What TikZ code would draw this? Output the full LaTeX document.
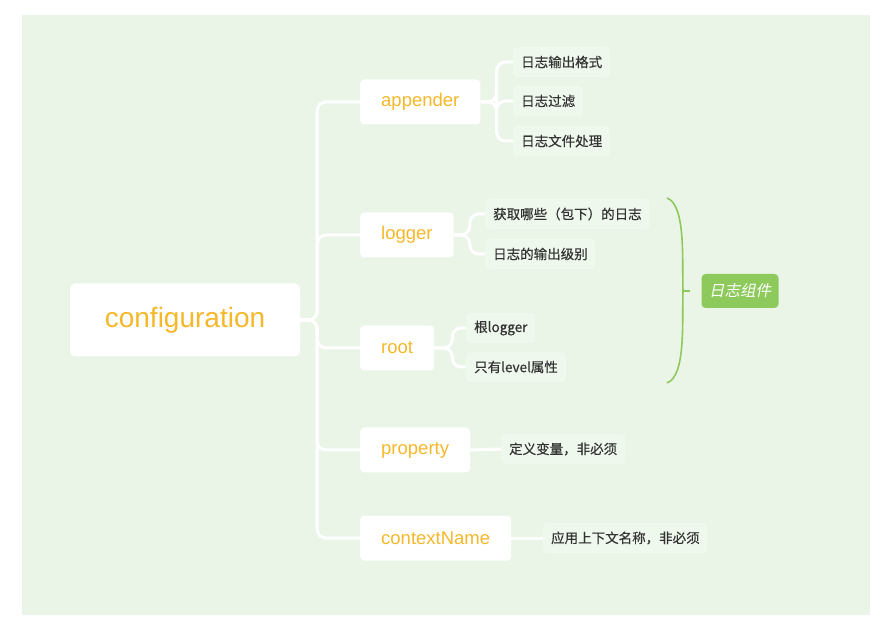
\documentclass[tikz,border=0pt]{standalone}
\usepackage{fontspec}
\setmainfont{Liberation Sans}
\newfontfamily\cjk[FakeBold=0.4]{Noto Sans CJK SC}
\newfontfamily\cjkit[FakeSlant=0.2]{Noto Sans CJK SC}
\usetikzlibrary{positioning}
\definecolor{paper}{HTML}{EAF5E8}
\definecolor{topic}{HTML}{F5B82A}
\definecolor{leafbg}{HTML}{EFF8ED}
\definecolor{ink}{HTML}{333333}
\definecolor{tagbg}{HTML}{8DC95B}
\tikzset{
  rootbox/.style={fill=white, rounded corners=5pt, text=topic,
    font=\fontsize{28}{30}\selectfont, minimum width=230pt, minimum height=73pt},
  topicbox/.style={fill=white, rounded corners=4pt, text=topic, anchor=west,
    font=\fontsize{18.5}{20}\selectfont, minimum height=45pt, inner xsep=21pt},
  leafbox/.style={fill=leafbg, rounded corners=4pt, text=ink, anchor=west,
    font=\cjk\fontsize{13.5}{15}\selectfont, minimum height=30pt, inner xsep=8pt},
  tagbox/.style={fill=tagbg, rounded corners=4pt, text=white,
    font=\cjkit\fontsize{15.5}{17}\selectfont, minimum width=77pt, minimum height=34pt},
  link/.style={draw=white, line width=3pt, rounded corners=9pt},
  brace/.style={draw=tagbg, line width=1.6pt},
}
\begin{document}
\begin{tikzpicture}[x=1pt,y=-1pt]
\useasboundingbox (0,0) rectangle (892,617);
\fill[white] (0,0) rectangle (892,617);
\fill[paper] (22,15) rectangle (870,615);
% main topic and branches
\node[rootbox] (conf) at (185,320) {configuration};
\node[topicbox] (app) at (360,102) {appender};
\node[topicbox] (log) at (360,235) {logger};
\node[topicbox] (rt) at (360,348) {root};
\node[topicbox] (prop) at (360,450) {property};
\node[topicbox] (ctx) at (360,538) {contextName};
% leaves
\node[leafbox] (a1) at (513,62) {日志输出格式};
\node[leafbox] (a2) at (513,101) {日志过滤};
\node[leafbox] (a3) at (513,141) {日志文件处理};
\node[leafbox] (l1) at (485,214) {获取哪些（包下）的日志};
\node[leafbox] (l2) at (485,254) {日志的输出级别};
\node[leafbox] (r1) at (466,328) {根logger};
\node[leafbox] (r2) at (466,367) {只有level属性};
\node[leafbox] (p1) at (501,449) {定义变量，非必须};
\node[leafbox] (c1) at (543,538) {应用上下文名称，非必须};
% connectors
\foreach \t in {app,log,rt,prop,ctx}
  \draw[link] (conf.east) -- ++(17,0) |- (\t.west);
\foreach \leaf in {a1,a2,a3}
  \draw[link] (app.east) -- ++(16,0) |- (\leaf.west);
\foreach \leaf in {l1,l2}
  \draw[link] (log.east) -- ++(16,0) |- (\leaf.west);
\foreach \leaf in {r1,r2}
  \draw[link] (rt.east) -- ++(18,0) |- (\leaf.west);
\draw[link] (prop.east) -- (p1.west);
\draw[link] (ctx.east) -- (c1.west);
% summary brace
\node[tagbox] (tag) at (740,291) {日志组件};
\draw[brace] (667,198) .. controls (686,205) and (682,260) .. (683,291)
  .. controls (682,322) and (686,376) .. (667,383);
\draw[brace] (683,291) -- (690,291);
\end{tikzpicture}
\end{document}
